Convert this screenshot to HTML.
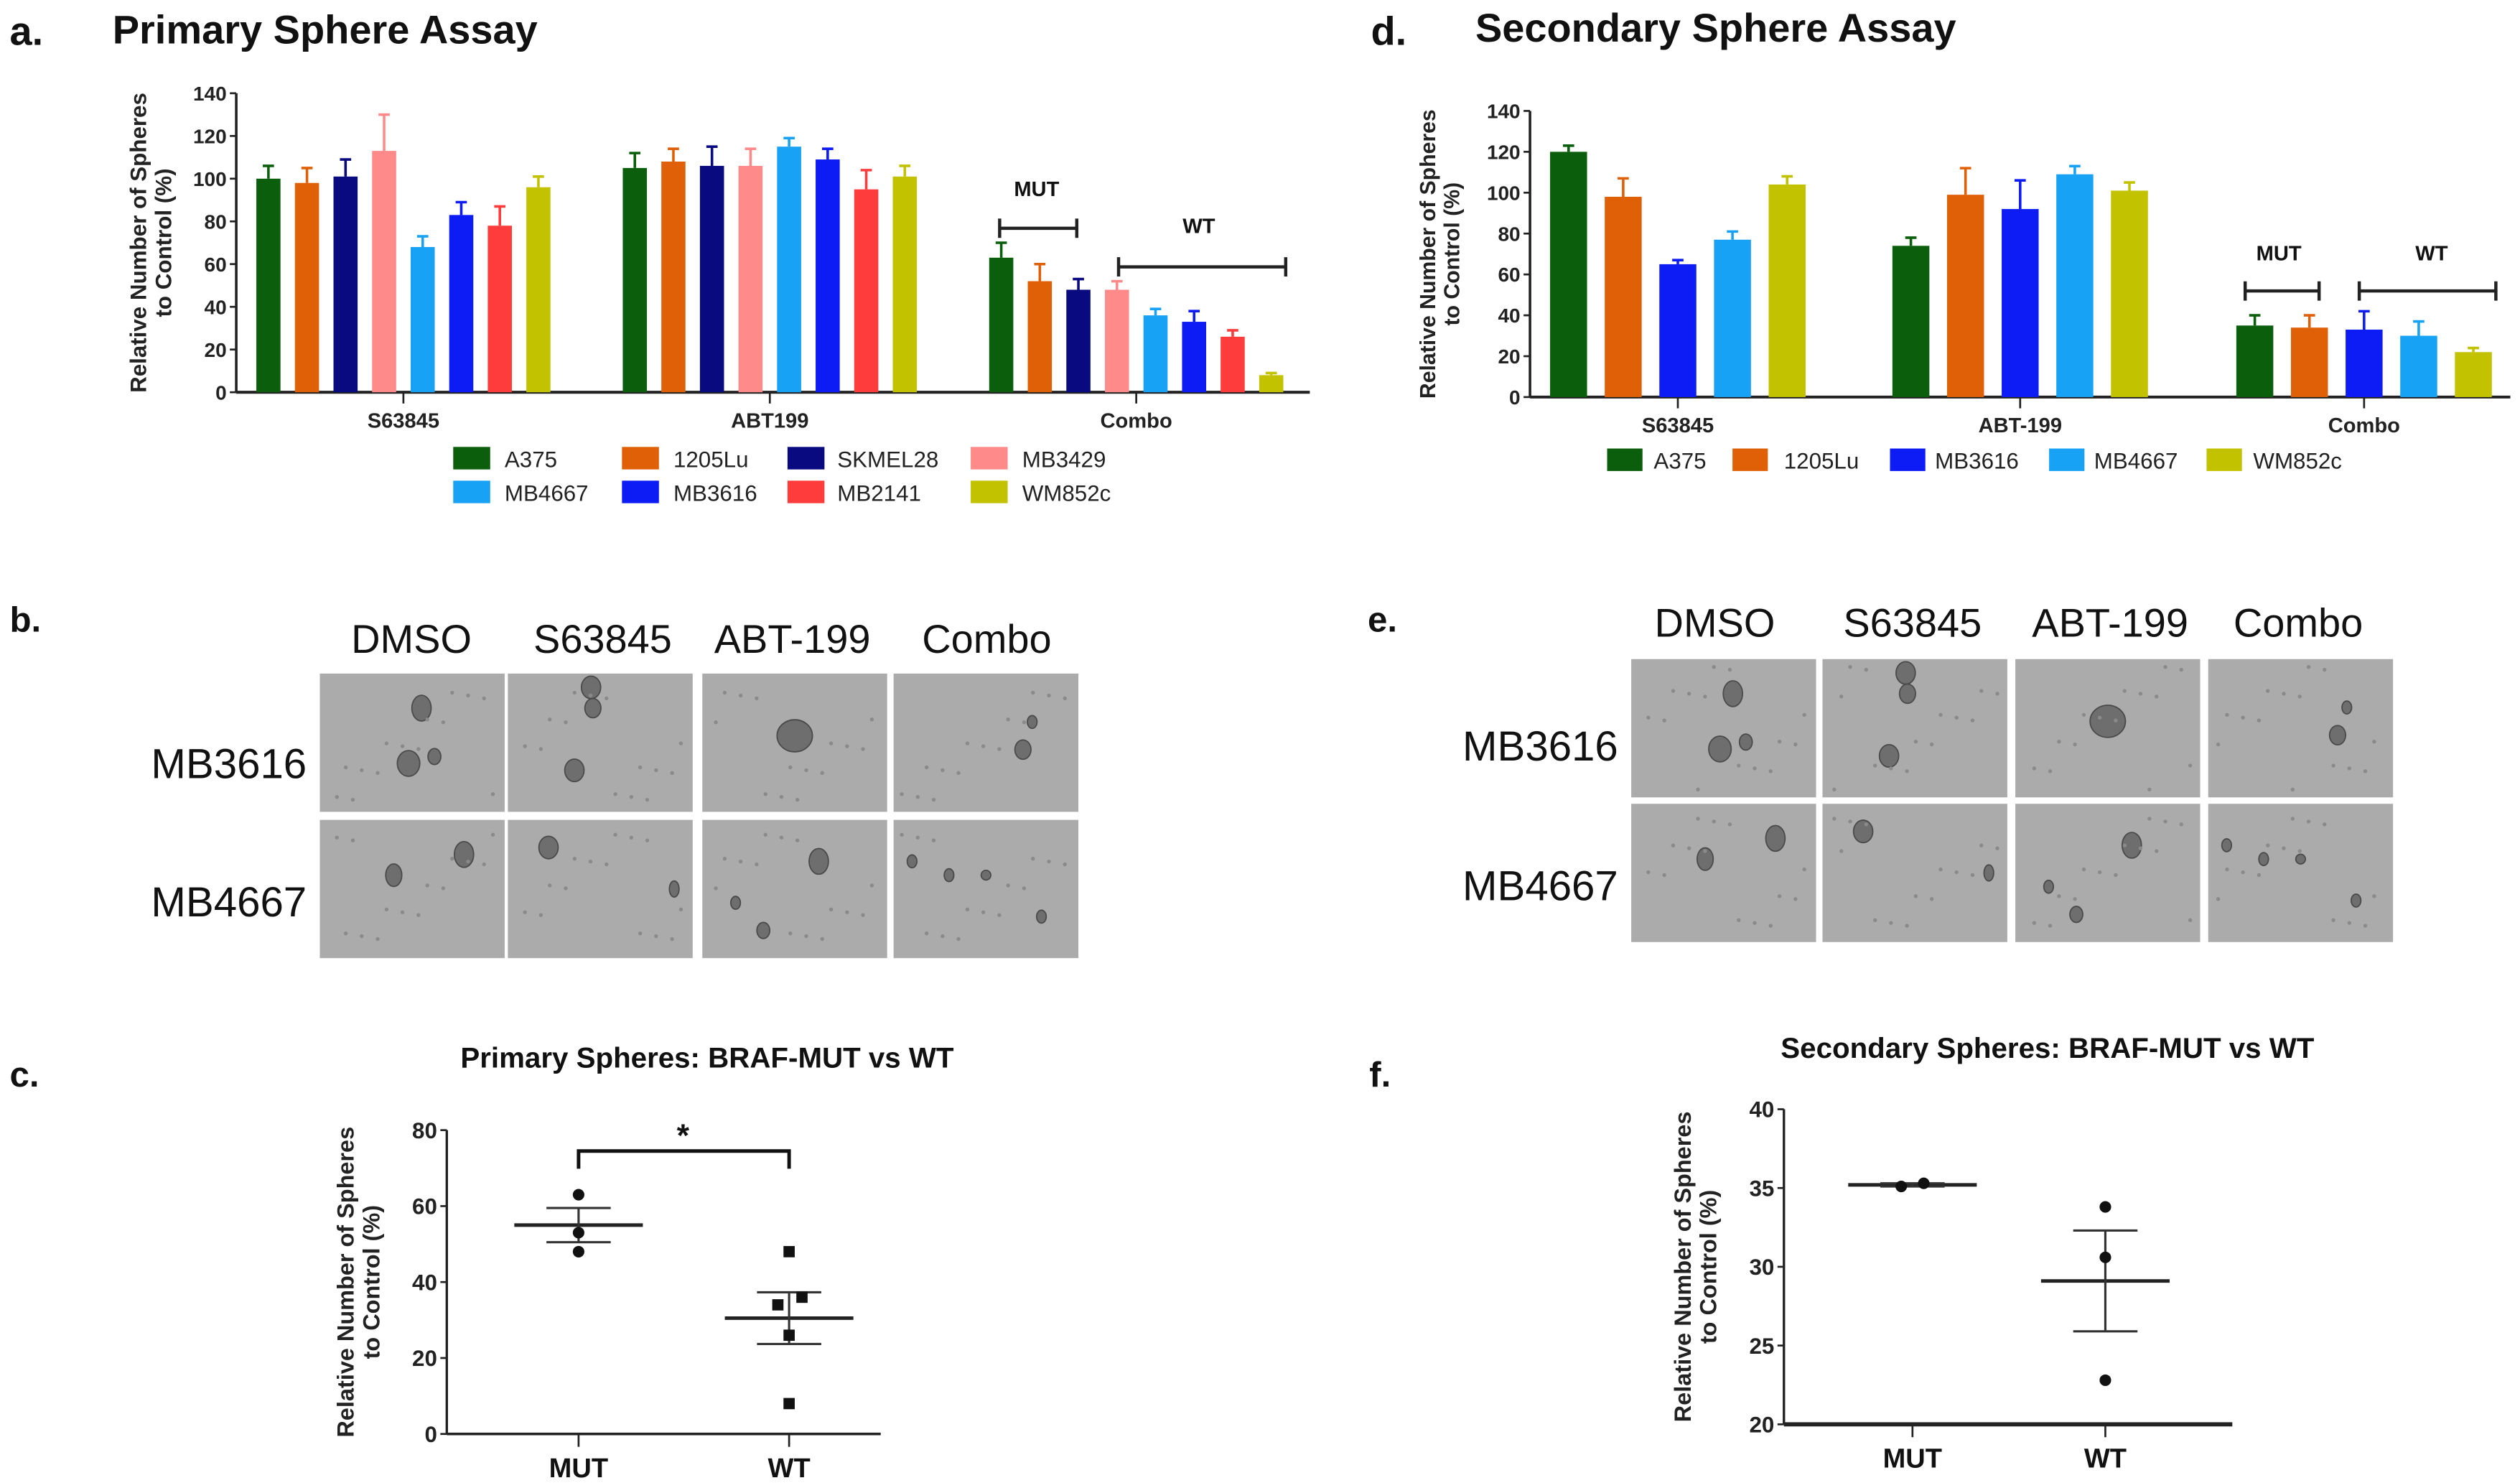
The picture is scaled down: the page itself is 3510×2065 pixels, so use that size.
<!DOCTYPE html>
<html><head><meta charset="utf-8"><style>
html,body{margin:0;padding:0;background:#fff;}
svg{display:block;}
text{font-family:"Liberation Sans",sans-serif;}
.nar{font-family:"Liberation Sans Narrow","Liberation Sans",sans-serif;}
</style></head><body>
<svg id="fig" xmlns="http://www.w3.org/2000/svg" width="3510" height="2065" viewBox="0 0 1568 922.5">
<rect x="0" y="0" width="1568" height="922.5" fill="#fff"/>
<g id="root"></g>
</svg>
<script>
// ---------- Data ----------
const aCats = ["S63845","ABT199","Combo"];
const aSeries = ["A375","1205Lu","SKMEL28","MB3429","MB4667","MB3616","MB2141","WM852c"];
const aVals = [[100,98,101,113,68,83,78,96],[105,108,106,106,115,109,95,101],[63,52,48,48,36,33,26,8]];
const aErr  = [[106,105,109,130,73,89,87,101],[112,114,115,114,119,114,104,106],[70,60,53,52,39,38,29,9]];
const aTicks = [0,20,40,60,80,100,120,140];

const dCats = ["S63845","ABT-199","Combo"];
const dSeries = ["A375","1205Lu","MB3616","MB4667","WM852c"];
const dVals = [[120,98,65,77,104],[74,99,92,109,101],[35,34,33,30,22]];
const dErr  = [[123,107,67,81,108],[78,112,106,113,105],[40,40,42,37,24]];
const dTicks = [0,20,40,60,80,100,120,140];

const cGroups = ["MUT","WT"];
const cMUT = [63,53,48];
const cWT = [48,36,34,26,8];
const cMean = [55,30.5];
const cSem = [4.5,6.8];
const cTicks = [0,20,40,60,80];

const fGroups = ["MUT","WT"];
const fMUT = [35.1,35.3];
const fWT = [33.8,30.6,22.8];
const fMean = [35.2,29.1];
const fSem = [0.1,3.2];
const fTicks = [20,25,30,35,40];

const colors = {A375:"#0b5e0b","1205Lu":"#e06008",SKMEL28:"#0a0a80",MB3429:"#ff8a8a",MB4667:"#17a2f5",MB3616:"#0d1cf5",MB2141:"#ff3c3c",WM852c:"#c2c200"};

const NS="http://www.w3.org/2000/svg";
const root=document.getElementById('root');
function el(tag,attrs,parent,txt){const e=document.createElementNS(NS,tag);for(const k in attrs)e.setAttribute(k,attrs[k]);if(txt!==undefined)e.textContent=txt;(parent||root).appendChild(e);return e;}
function g(name){const e=el('g',{});return e;}

// ---------- Bar chart ----------
function barChart(o){
  const G=g(o.name);
  const y=v=>o.y0-(v-o.min)/(o.max-o.min)*(o.y0-o.y1);
  el('line',{x1:o.ax,y1:o.y1,x2:o.ax,y2:o.y0,stroke:"#222","stroke-width":1.6},G);
  el('line',{x1:o.ax,y1:o.y0,x2:o.axEnd,y2:o.y0,stroke:"#222","stroke-width":1.8},G);
  o.ticks.forEach(t=>{
    el('line',{x1:o.ax-4,y1:y(t),x2:o.ax,y2:y(t),stroke:"#222","stroke-width":1.2},G);
    const tx=el('text',{x:o.ax-6,y:y(t)+4.5,"text-anchor":"end","font-size":12.5,"font-weight":"bold",class:"nar",fill:"#222"},G,t);
    
    
  });
  const yl=el('text',{transform:`translate(${o.ylx},${(o.y0+o.y1)/2}) rotate(-90)`,"text-anchor":"middle","font-size":o.yfs,"font-weight":"bold",fill:"#222"},G);
  
  
  el('tspan',{x:0,dy:0},yl,"Relative Number of Spheres");
  el('tspan',{x:0,dy:o.yfs+1.5},yl,"to Control (%)");
  o.cats.forEach((c,ci)=>{
    const cx=o.groupX[ci];
    el('line',{x1:cx,y1:o.y0,x2:cx,y2:o.y0+7,stroke:"#222","stroke-width":1.2},G);
    const t=el('text',{x:cx,y:o.y0+22,"text-anchor":"middle","font-size":13,"font-weight":"bold",class:"nar",fill:"#222"},G,c);
    
    
    const n=o.series.length;
    o.series.forEach((s,si)=>{
      const bx=cx+(si-(n-1)/2)*o.step-o.bw/2;
      const v=o.vals[ci][si],e=o.err[ci][si],col=colors[s];
      const r=el('rect',{x:bx,y:y(v),width:o.bw,height:o.y0-y(v),fill:col},G);
      
      
      const ex=bx+o.bw/2;
      const eb=el('path',{d:`M${ex},${y(v)}V${y(e)}M${ex-3.5},${y(e)}H${ex+3.5}`,stroke:col,"stroke-width":1.6,fill:"none"},G);
      
      
    });
  });
  return G;
}

function txt(x,y,s,size,name,extra){const t=el('text',Object.assign({x:x,y:y,"font-size":size,fill:"#111"},extra||{}),root,s);return t;}

// ---------- Panel a ----------
txt(6,28,"a.",25,"panel-label-a",{"font-weight":"bold"});
txt(70,27,"Primary Sphere Assay",25,"panel-a-title",{"font-weight":"bold",class:"nar"});
barChart({name:"primary-sphere-chart",ax:147,axEnd:815,y0:244,y1:58,min:0,max:140,ticks:aTicks,cats:aCats,series:aSeries,vals:aVals,err:aErr,groupX:[251,479,707],step:24,bw:15,ylx:91,yfs:14});
function bracket(x1,x2,yy,label,lx,ly,name){const G=g(name);el('path',{d:`M${x1},${yy-6}V${yy+6}M${x1},${yy}H${x2}M${x2},${yy-6}V${yy+6}`,stroke:"#222","stroke-width":2,fill:"none"},G);const t=el('text',{x:lx,y:ly,"text-anchor":"middle","font-size":13,"font-weight":"bold",class:"nar",fill:"#111"},G,label);}
bracket(622,670,142,"MUT",645,122,"mut-bracket-a");
bracket(696,800,166,"WT",746,145,"wt-bracket-a");
function legend(items,xs,txs,ys,name,sw){const G=g(name);items.forEach((s,i)=>{const r=Math.floor(i/xs.length),c=i%xs.length;const e=el('g',{},G);el('rect',{x:xs[c],y:ys[r],width:sw,height:14,fill:colors[s]},e);el('text',{x:txs[c],y:ys[r]+12.5,"font-size":14,class:"nar",fill:"#222"},e,s);});}
legend(aSeries,[282,387,490,604],[314,419,521,636],[278,299],"legend-a",23);

// ---------- Panel d ----------
txt(853,28,"d.",25,"panel-label-d",{"font-weight":"bold"});
txt(918,26,"Secondary Sphere Assay",25,"panel-d-title",{"font-weight":"bold",class:"nar"});
barChart({name:"secondary-sphere-chart",ax:952,axEnd:1562,y0:247,y1:69,min:0,max:140,ticks:dTicks,cats:dCats,series:dSeries,vals:dVals,err:dErr,groupX:[1044,1257,1471],step:34,bw:23,ylx:893,yfs:13.5});
bracket(1397,1443,181,"MUT",1418,162,"mut-bracket-d");
bracket(1468,1553,181,"WT",1513,162,"wt-bracket-d");
legend(dSeries,[1000,1078,1176,1275,1373],[1029,1110,1204,1303,1402],[279],"legend-d",22);

// ---------- Micrograph panels ----------
function blobs(G,x,y,w,h,list){el('rect',{x:x,y:y,width:w,height:h,fill:"#ababab"},G);list.forEach(b=>{el('ellipse',{cx:x+b[0]*w,cy:y+b[1]*h,rx:b[2],ry:b[3],fill:"#6e6e6e",stroke:"#4a4a4a","stroke-width":0.8},G);});
  for(let i=0;i<14;i++){const px=((i*37+x*3)%97)/97,py=((i*53+y*7)%89)/89;el('circle',{cx:x+4+px*(w-8),cy:y+4+py*(h-8),r:1.2,fill:"#8a8a8a"},G);}}
const tileBlobs=[
 [[[0.55,0.25,6,8],[0.48,0.65,7,8],[0.62,0.6,4,5]],[[0.45,0.1,6,7],[0.46,0.25,5,6],[0.36,0.7,6,7]],[[0.5,0.45,11,10]],[[0.75,0.35,3,4],[0.7,0.55,5,6]]],
 [[[0.78,0.25,6,8],[0.4,0.4,5,7]],[[0.22,0.2,6,7],[0.9,0.5,3,5]],[[0.63,0.3,6,8],[0.18,0.6,3,4],[0.33,0.8,4,5]],[[0.1,0.3,3,4],[0.3,0.4,3,4],[0.5,0.4,3,3],[0.8,0.7,3,4]]]
];
function micro(name,colX,colW,rowY,rowH,cols,colLX,colLY,rows,rowLX,rowLY){
  const G=g(name);
  cols.forEach((c,i)=>{const t=el('text',{x:colLX[i],y:colLY,"text-anchor":"middle","font-size":25,fill:"#111"},G,c);});
  rows.forEach((r,j)=>{const t=el('text',{x:rowLX,y:rowLY[j],"font-size":26,fill:"#111"},G,r);
    cols.forEach((c,i)=>{const tg=el('g',{},G);blobs(tg,colX[i],rowY[j],colW,rowH,tileBlobs[j][i]);});});
}
txt(6,393,"b.",22,"panel-label-b",{"font-weight":"bold"});
micro("micrographs-primary",[199,316,437,556],115,[419,510],86,["DMSO","S63845","ABT-199","Combo"],[256,375,493,614],406,["MB3616","MB4667"],94,[484,570]);
txt(851,393,"e.",22,"panel-label-e",{"font-weight":"bold"});
micro("micrographs-secondary",[1015,1134,1254,1374],115,[410,500],86,["DMSO","S63845","ABT-199","Combo"],[1067,1190,1313,1430],396,["MB3616","MB4667"],910,[473,560]);

// ---------- Scatter panels ----------
function scatter(o){
  const G=g(o.name);
  const y=v=>o.y0-(v-o.min)/(o.max-o.min)*(o.y0-o.y1);
  const t=el('text',{x:o.tx,y:o.ty,"text-anchor":"middle","font-size":18,"font-weight":"bold",class:"nar",fill:"#111"},G,o.title);
  
  el('line',{x1:o.ax,y1:o.y1,x2:o.ax,y2:o.y0,stroke:"#222","stroke-width":1.5},G);
  el('line',{x1:o.ax,y1:o.y0,x2:o.axEnd,y2:o.y0,stroke:"#222","stroke-width":o.xw},G);
  o.ticks.forEach(tk=>{el('line',{x1:o.ax-4,y1:y(tk),x2:o.ax,y2:y(tk),stroke:"#222","stroke-width":1.2},G);
    const tl=el('text',{x:o.ax-6,y:y(tk)+5,"text-anchor":"end","font-size":14,"font-weight":"bold",class:"nar",fill:"#222"},G,tk);});
  const yl=el('text',{transform:`translate(${o.ylx},${(o.y0+o.y1)/2}) rotate(-90)`,"text-anchor":"middle","font-size":14.5,"font-weight":"bold",fill:"#222"},G);
  
  el('tspan',{x:0,dy:0},yl,"Relative Number of Spheres");el('tspan',{x:0,dy:16},yl,"to Control (%)");
  o.groups.forEach((gr,i)=>{const cx=o.gx[i];
    el('line',{x1:cx,y1:o.y0,x2:cx,y2:o.y0+8,stroke:"#222","stroke-width":1.2},G);
    const xl=el('text',{x:cx,y:o.y0+27,"text-anchor":"middle","font-size":17,"font-weight":"bold",class:"nar",fill:"#111"},G,gr);
    const m=o.mean[i],s=o.sem[i];
    const mg=el('g',{},G);
    el('line',{x1:cx-40,y1:y(m),x2:cx+40,y2:y(m),stroke:"#222","stroke-width":2.2},mg);
    el('path',{d:`M${cx},${y(m+s)}V${y(m-s)}M${cx-20},${y(m+s)}H${cx+20}M${cx-20},${y(m-s)}H${cx+20}`,stroke:"#333","stroke-width":1.4,fill:"none"},mg);
    o.pts[i].forEach((v,k)=>{const px=cx+(o.jit[i][k]||0);let p;
      if(o.shape[i]==="sq"){p=el('rect',{x:px-3.5,y:y(v)-3.5,width:7,height:7,fill:"#111"},G);}
      else{p=el('circle',{cx:px,cy:y(v),r:3.6,fill:"#111"},G);}
      });
  });
  return G;
}
txt(6,676,"c.",22,"panel-label-c",{"font-weight":"bold"});
scatter({name:"primary-mut-vs-wt",title:"Primary Spheres: BRAF-MUT vs WT",tx:440,ty:664,ax:278,axEnd:548,y0:892,y1:703,min:0,max:80,ticks:cTicks,groups:cGroups,gx:[360,491],pts:[cMUT,cWT],mean:cMean,sem:cSem,shape:["c","sq"],jit:[[0,0,0],[0,8,-7,0,0]],ylx:220,xw:1.6});
(function(){const yb=716;const sg=g('significance-bracket');el('path',{d:`M360,727V${yb}H491V727`,stroke:"#111","stroke-width":2.2,fill:"none"},sg);const st=el('text',{x:425,y:713,"text-anchor":"middle","font-size":20,"font-weight":"bold",fill:"#111"},sg,"*");})();
txt(852,676,"f.",22,"panel-label-f",{"font-weight":"bold"});
scatter({name:"secondary-mut-vs-wt",title:"Secondary Spheres: BRAF-MUT vs WT",tx:1274,ty:658,ax:1110,axEnd:1389,y0:886,y1:690,min:20,max:40,ticks:fTicks,groups:fGroups,gx:[1190,1310],pts:[fMUT,fWT],mean:fMean,sem:fSem,shape:["c","c"],jit:[[-7,7],[0,0,0]],ylx:1052,xw:2.6});
</script>
</body></html>
